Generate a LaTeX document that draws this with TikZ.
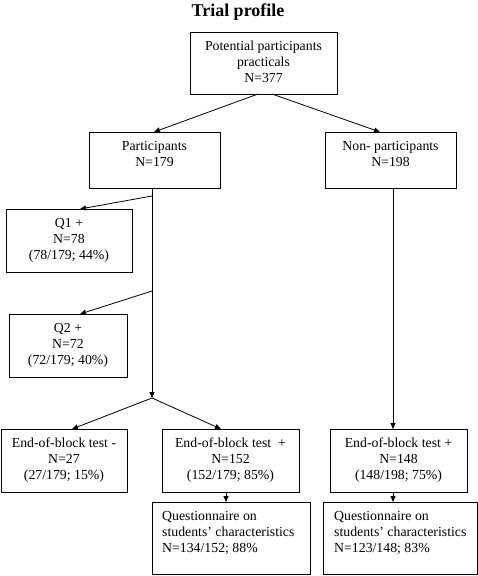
\documentclass[tikz,border=0pt]{standalone}
\usepackage{fontspec}
\setmainfont{Liberation Serif}
\usetikzlibrary{arrows.meta}
\begin{document}
\begin{tikzpicture}[x=1pt,y=-1pt,
  box/.style={draw=black,line width=0.8pt},
  txt/.style={inner sep=0pt,align=center,anchor=north,font=\fontsize{13.8}{16}\selectfont},
  ltxt/.style={inner sep=0pt,align=left,anchor=north west,font=\fontsize{13.8}{16}\selectfont},
  conn/.style={draw=black,line width=0.8pt},
  arr/.style={conn,-{Triangle[length=6pt,width=5pt]}}]
\useasboundingbox (0,0) rectangle (478,576);
\node[font=\fontsize{18}{20}\selectfont\bfseries,anchor=base,inner sep=0pt] (title) at (238,16) {Trial profile};
% boxes
\draw[box] (190,32) rectangle (337,94);
\draw[box] (89,132) rectangle (220,188);
\draw[box] (325,132) rectangle (456,188);
\draw[box] (6,209) rectangle (132,272);
\draw[box] (9,314) rectangle (127,377);
\draw[box] (1,429) rectangle (127,492);
\draw[box] (162,429) rectangle (299,492);
\draw[box] (330,429) rectangle (467,492);
\draw[box] (152,502) rectangle (310,574);
\draw[box] (323,502) rectangle (477,574);
% box anchors
\coordinate (topL) at (258,94);
\coordinate (topR) at (272,94);
\coordinate (partT) at (154,132);
\coordinate (partB) at (152,188);
\coordinate (nonT) at (380,132);
\coordinate (nonB) at (393,188);
\coordinate (j1) at (152,196);
\coordinate (q1T) at (80,209);
\coordinate (j2) at (152,291);
\coordinate (q2T) at (80,314);
\coordinate (br) at (152,398);
\coordinate (eobmT) at (72,429);
\coordinate (eobpT) at (221,429);
\coordinate (eobrT) at (393,429);
\coordinate (eobpB) at (226,492);
\coordinate (qmT) at (226,502);
\coordinate (eobrB) at (393,492);
\coordinate (qrT) at (393,502);
% texts
\node[txt] (top) at (263.5,38.8) {\strut Potential participants\\practicals\\N=377};
\node[txt] (part) at (154.5,138.8) {\strut Participants\\N=179};
\node[txt] (non) at (390.5,138.8) {\strut Non- participants\\N=198};
\node[txt] (q1) at (69,215.8) {\strut Q1 +\\N=78\\(78/179; 44\%)};
\node[txt] (q2) at (68,320.8) {\strut Q2 +\\N=72\\(72/179; 40\%)};
\node[txt] (eobm) at (64,435.8) {\strut End-of-block test -\\N=27\\(27/179; 15\%)};
\node[txt] (eobp) at (230.5,435.8) {\strut End-of-block test\ \ +\\N=152\\(152/179; 85\%)};
\node[txt] (eobr) at (398.5,435.8) {\strut End-of-block test +\\N=148\\(148/198; 75\%)};
\node[ltxt] (qm) at (162,509.3) {\strut Questionnaire on\\students’ characteristics\\N=134/152; 88\%};
\node[ltxt] (qr) at (334,509.3) {\strut Questionnaire on\\students’ characteristics\\N=123/148; 83\%};
% connectors
\draw[arr] (topL) -- (partT);
\draw[arr] (topR) -- (nonT);
\draw[arr] (partB) -- (br);
\draw[arr] (j1) -- (q1T);
\draw[arr] (j2) -- (q2T);
\draw[arr] (br) -- (eobmT);
\draw[arr] (br) -- (eobpT);
\draw[arr] (nonB) -- (eobrT);
\draw[arr] (eobpB) -- (qmT);
\draw[arr] (eobrB) -- (qrT);
\end{tikzpicture}
\end{document}
